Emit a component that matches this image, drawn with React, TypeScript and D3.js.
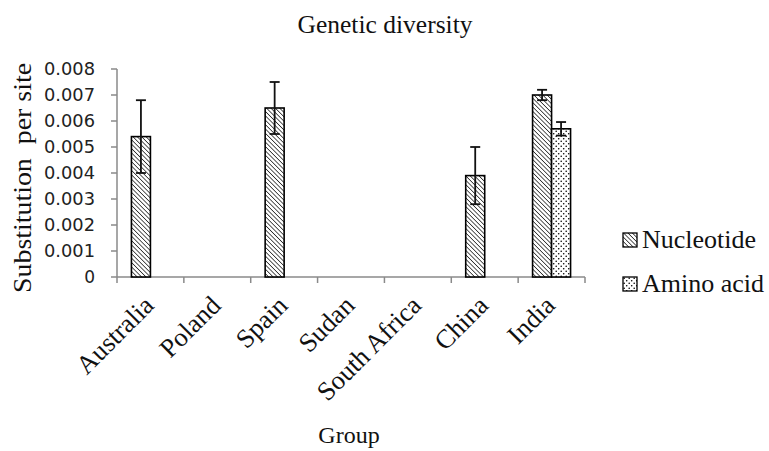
import React from "react";
import * as d3 from "d3";

const categories = ["Australia", "Poland", "Spain", "Sudan", "South Africa", "China", "India"];
const seriesNames = ["Nucleotide", "Amino acid"];
const nucleotide: (number | null)[] = [0.0054, null, 0.0065, null, null, 0.0039, 0.0070];
const nucleotideErr: (number | null)[] = [0.0014, null, 0.001, null, null, 0.0011, 0.0002];
const aminoAcid: (number | null)[] = [null, null, null, null, null, null, 0.0057];
const aminoAcidErr: (number | null)[] = [null, null, null, null, null, null, 0.00026];
const yTicks = [0, 0.001, 0.002, 0.003, 0.004, 0.005, 0.006, 0.007, 0.008];

const W = 769;
const H = 451;
const left = 117;
const right = 585;
const top = 69;
const bottom = 277;

export default function App() {
  const x = d3.scaleBand<string>().domain(categories).range([left, right]).padding(0);
  const inner = d3
    .scaleBand<string>()
    .domain(seriesNames)
    .range([0, x.bandwidth()])
    .paddingInner(0)
    .paddingOuter(0.76);
  const y = d3.scaleLinear().domain([0, 0.008]).range([bottom, top]);

  const series = [
    { name: "Nucleotide", values: nucleotide, errs: nucleotideErr, fill: "url(#hatch)" },
    { name: "Amino acid", values: aminoAcid, errs: aminoAcidErr, fill: "url(#dots)" },
  ];

  const serif = "'Liberation Serif', 'Times New Roman', serif";
  const sans = "'DejaVu Sans', Verdana, sans-serif";
  const axisColor = "#8a8a8a";
  const boundaries = [...categories.map((c) => x(c)!), right];

  return (
    <svg width={W} height={H} style={{ position: "absolute", left: 0, top: 0, background: "#fff" }}>
      <defs>
        <pattern id="hatch" patternUnits="userSpaceOnUse" width="3.1" height="3.1" patternTransform="rotate(-45)">
          <rect width="3.1" height="3.1" fill="#fff" />
          <line x1="0" y1="0" x2="0" y2="3.1" stroke="#000" strokeWidth="1.3" />
        </pattern>
        <pattern id="dots" patternUnits="userSpaceOnUse" width="5" height="5">
          <rect width="5" height="5" fill="#fff" />
          <circle cx="1.2" cy="1.2" r="0.8" fill="#000" />
          <circle cx="3.7" cy="3.7" r="0.8" fill="#000" />
        </pattern>
      </defs>
      <rect width={W} height={H} fill="#fff" />

      <text x={385} y={33} textAnchor="middle" fontFamily={serif} fontSize={25} textLength={175} lengthAdjust="spacingAndGlyphs" fill="#111">
        Genetic  diversity
      </text>

      {/* y axis */}
      <line x1={left} x2={left} y1={top} y2={bottom} stroke={axisColor} strokeWidth={1.5} />
      {yTicks.map((t) => (
        <g key={t}>
          <line x1={left - 6} x2={left} y1={y(t)} y2={y(t)} stroke={axisColor} strokeWidth={1.5} />
          <text
            x={95}
            y={y(t)}
            dy="0.36em"
            textAnchor="end"
            fontFamily={sans}
            fontSize={17}
            fill="#222"
            {...(t === 0 ? {} : { textLength: 51, lengthAdjust: "spacingAndGlyphs" })}
          >
            {t === 0 ? "0" : t.toFixed(3)}
          </text>
        </g>
      ))}

      {/* x axis */}
      <line x1={left} x2={right} y1={bottom} y2={bottom} stroke={axisColor} strokeWidth={1.5} />
      {boundaries.map((b, i) => (
        <line key={i} x1={b} x2={b} y1={bottom} y2={bottom + 6} stroke={axisColor} strokeWidth={1.5} />
      ))}

      {/* bars */}
      {series.map((s) =>
        categories.map((c, i) => {
          const v = s.values[i];
          if (v == null) return null;
          const bx = x(c)! + inner(s.name)!;
          const bw = inner.bandwidth();
          return (
            <rect key={s.name + c} x={bx} y={y(v)} width={bw} height={y(0) - y(v)} fill={s.fill} stroke="#000" strokeWidth={1.6} />
          );
        })
      )}

      {/* error bars */}
      {series.map((s) =>
        categories.map((c, i) => {
          const v = s.values[i];
          const e = s.errs[i];
          if (v == null || e == null) return null;
          const cx = x(c)! + inner(s.name)! + inner.bandwidth() / 2;
          const hw = 5;
          return (
            <g key={"e" + s.name + c} stroke="#111" strokeWidth={1.8}>
              <line x1={cx} x2={cx} y1={y(v + e)} y2={y(v - e)} />
              <line x1={cx - hw} x2={cx + hw} y1={y(v + e)} y2={y(v + e)} />
              <line x1={cx - hw} x2={cx + hw} y1={y(v - e)} y2={y(v - e)} />
            </g>
          );
        })
      )}

      {/* x tick labels */}
      {categories.map((c) => {
        const cx = x(c)! + x.bandwidth() / 2 + 5;
        const cy = 307;
        return (
          <text key={c} x={cx} y={cy} textAnchor="end" fontFamily={serif} fontSize={26.5} fill="#111" transform={`rotate(-45 ${cx} ${cy})`}>
            {c}
          </text>
        );
      })}

      {/* axis titles */}
      <text x={349} y={443} textAnchor="middle" fontFamily={serif} fontSize={24} fill="#111">
        Group
      </text>
      <text
        x={0}
        y={0}
        transform={`translate(31 178) rotate(-90)`}
        textAnchor="middle"
        fontFamily={serif}
        fontSize={25}
        textLength={230}
        lengthAdjust="spacingAndGlyphs"
        fill="#111"
        style={{ whiteSpace: "pre" }}
      >
        Substitution  per site
      </text>

      {/* legend */}
      {series.map((s, i) => (
        <g key={"lg" + s.name} transform={`translate(623 ${233 + i * 44})`}>
          <rect x={0} y={0} width={14} height={14} fill={s.fill} stroke="#000" strokeWidth={1.3} />
          <text x={19} y={15} fontFamily={serif} fontSize={26} fill="#111">
            {s.name}
          </text>
        </g>
      ))}
    </svg>
  );
}
